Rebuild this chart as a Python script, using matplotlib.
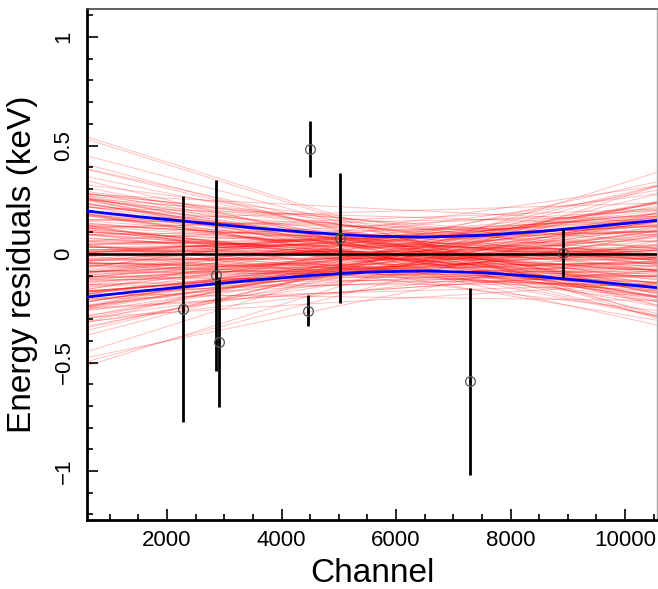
import matplotlib
matplotlib.use("Agg")
import matplotlib.pyplot as plt
from matplotlib.ticker import MultipleLocator

plt.rcParams['font.family'] = ['Liberation Sans', 'DejaVu Sans']

# ---- data points (channel, residual keV, error keV) ----
pt_x = [2270, 2855, 2907, 4453, 4488, 5023, 7285, 8913]
pt_y = [-0.253, -0.097, -0.407, -0.261, 0.484, 0.074, -0.587, 0.006]
pt_err = [0.52, 0.44, 0.30, 0.072, 0.13, 0.30, 0.43, 0.11]

# ---- 1-sigma band of the calibration fit (blue curves) ----
band_x = [600, 1500, 2500, 3500, 4500, 5500, 6500, 7500, 8500, 9500, 10560]
band_up = [0.198, 0.172, 0.146, 0.121, 0.099, 0.083, 0.078, 0.086, 0.104, 0.128, 0.155]
band_lo = [-0.198, -0.172, -0.146, -0.121, -0.099, -0.083, -0.078, -0.086, -0.104, -0.128, -0.155]

# ---- sampled fit lines (red): offset at pivot channel (1e-3 keV) and slope (1e-3 keV / 1000 ch) ----
pivot = 6300
line_c = [12, -56, 98, -3, -141, 31, 70, -21, -107, 5,
          44, -90, 153, -37, -64, 19, -1, 83, -118, 27,
          -47, 59, -9, -169, 35, 102, -15, -76, 51, -29,
          7, -86, 125, -42, -11, 64, -54, 23, -201, 90,
          -34, 1, -73, 112, -25, 47, -98, 16, -62, 133,
          -5, 37, -80, 76, -19, -133, 29, 3, -49, 94,
          -12, 56, -112, 21, -40, 201, -16, -67, 42, 11,
          -94, 67, -27, 141, -7, -102, 34, 80, -44, 9,
          -125, 54, -31, 169, -59, 25, -83, 15, -70, 40,
          118, -51, 62, -23, 107, -35, -153, 73, 49, 86,
          -7, 42, -118, 86, 3, -51, 25, -94, 64, -16,
          133, -35, 9, -73, 49, -201, 19, 107, -27, -59,
          80, -1, -44, 56, -141, 12, 90, -21, -67, 37,
          -5, 153, -31, 70, -112, 23, -83, 47, 15, -125,
          34, -9, 98, -62, 1, -169, 27, 76, -40, -11,
          118, -25, 59, -86, 5, -49, 201, -19, 40, -98,
          -3, 62, -133, 29, 11, -76, 94, -37, -15, 141,
          -56, 21, 44, -107, 7, -29, 112, -64, 16, -42,
          169, -12, 51, -90, 31, -153, 67, -23, -70, 83,
          102, -34, 35, -80, -102, 54, 125, -47, 73, -54]
line_s = [-23, 9, 46, -4, 30, -63, 14, -35, 2, 51,
          -17, -9, 38, -28, 5, -69, 21, 12, -44, 33,
          -1, -13, 58, 7, -26, 17, -48, 0, 24, -11,
          40, -31, -6, 83, -20, 10, -54, 29, -3, 15,
          -38, 44, -14, 4, -25, 63, -8, -42, 19, 34,
          -16, 1, -58, 26, 11, -30, 48, -5, 22, -34,
          3, -83, 13, -19, 35, 8, -46, 25, -10, 54,
          -2, 31, -21, 14, -40, 69, -12, 6, -29, 20,
          -4, 42, -24, 9, -33, 28, -15, 4, -51, 16,
          -7, 37, -22, 0, 23, -37, 18, 13, -18, 30,
          31, -12, 4, 58, -40, 21, -7, 13, -33, 0,
          -25, 44, -2, 9, -54, 16, 69, -19, 26, -3,
          11, -46, 35, -14, 1, -29, 22, -63, 8, 48,
          -17, 5, -38, 28, -10, 83, -22, 3, -51, 14,
          -4, 37, -30, 19, -9, 54, -42, 6, 24, -15,
          -28, 10, -69, 40, -1, 33, -13, 2, 46, -24,
          18, -58, 7, -35, 29, -6, 15, -48, 42, -20,
          4, -37, 25, -11, 63, -18, 12, -31, 0, 51,
          -8, 30, -23, 9, -44, 17, -83, 34, -5, 20,
          -26, 14, -4, 38, -16, 23, -34, 1, -21, 13]

x_lim = (600, 10560)
y_lim = (-1.226, 1.128)

fig = plt.figure(figsize=(6.58, 5.89), dpi=100)
ax = fig.add_axes([0.1322, 0.1171, 0.8663, 0.8671])
ax.set_xlim(*x_lim)
ax.set_ylim(*y_lim)

for c, s in zip(line_c, line_s):
    ax.axline((pivot, c / 1000.0), slope=s / 1e6, color='#ff0000', lw=0.7, alpha=0.25, zorder=1)

ax.axhline(0, color='black', lw=1.8, zorder=3)
ax.plot(band_x, band_up, color='#0000ff', lw=2.0, zorder=4)
ax.plot(band_x, band_lo, color='#0000ff', lw=2.0, zorder=4)

ax.errorbar(pt_x, pt_y, yerr=pt_err, fmt='none', ecolor='black', elinewidth=2.0, capsize=0, zorder=5)
ax.plot(pt_x, pt_y, 'o', mfc='none', mec='#555555', mew=0.9, ms=7, zorder=6)
ax.plot(pt_x, pt_y, '.', color='black', ms=2, zorder=7)

ax.xaxis.set_major_locator(MultipleLocator(2000))
ax.xaxis.set_minor_locator(MultipleLocator(500))
ax.yaxis.set_minor_locator(MultipleLocator(0.1))

ax.tick_params(axis='both', which='both', direction='in', top=False, right=False, width=1.2)
ax.tick_params(axis='both', which='major', length=8, labelsize=16)
ax.tick_params(axis='both', which='minor', length=4.5)
ax.tick_params(axis='x', pad=7)
ax.tick_params(axis='y', pad=9)
ax.set_yticks([-1, -0.5, 0, 0.5, 1])
ax.set_yticklabels(['\u22121', '\u22120.5', '0', '0.5', '1'], rotation=90, va='center')

for side in ('left', 'bottom'):
    ax.spines[side].set_linewidth(2.0)
    ax.spines[side].set_color('black')
ax.spines['top'].set_color('#444444')
ax.spines['top'].set_linewidth(1.2)
ax.spines['right'].set_color('#aaaaaa')
ax.spines['right'].set_linewidth(1.0)

ax.set_xlabel('Channel', fontsize=24, labelpad=5)
ax.set_ylabel('Energy residuals (keV)', fontsize=24, labelpad=11)

fig.savefig('out.png', dpi=100)
